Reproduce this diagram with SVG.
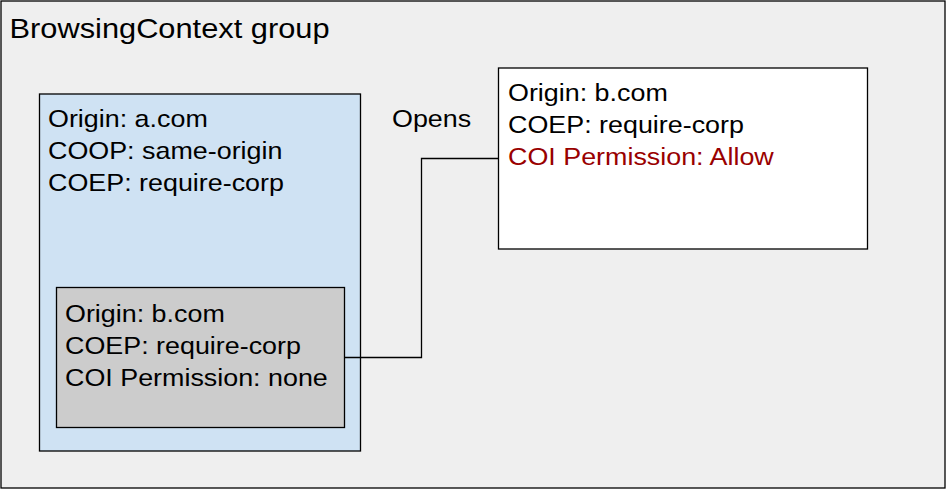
<svg xmlns="http://www.w3.org/2000/svg" width="947" height="489" viewBox="0 0 947 489">
<style>
.box{stroke:#000;stroke-width:1.3}
.t{font-family:"Liberation Sans",Arial,sans-serif;font-size:24px;fill:#000}
.title{font-size:27.5px}
.red{fill:#990000}
.conn{fill:none;stroke:#000;stroke-width:1.3}
</style>
<rect width="947" height="489" fill="#ffffff"/>
<g id="group">
<rect class="box" x="1" y="1" width="944" height="487" fill="#efefef"/>
<text class="t title" transform="translate(9.5,38) scale(1.12,1)">BrowsingContext group</text>
</g>
<g id="opener-a">
<rect class="box" x="39.5" y="94" width="321" height="357" fill="#cfe2f3"/>
<text class="t" transform="translate(48,127) scale(1.12,1)">Origin: a.com</text>
<text class="t" transform="translate(48,159) scale(1.12,1)">COOP: same-origin</text>
<text class="t" transform="translate(48,191) scale(1.12,1)">COEP: require-corp</text>
</g>
<g id="iframe-b">
<rect class="box" x="56.5" y="287.5" width="288" height="140" fill="#cccccc"/>
<text class="t" transform="translate(65,322) scale(1.12,1)">Origin: b.com</text>
<text class="t" transform="translate(65,354) scale(1.12,1)">COEP: require-corp</text>
<text class="t" transform="translate(65,386) scale(1.12,1)">COI Permission: none</text>
</g>
<g id="popup-b">
<rect class="box" x="498.5" y="68" width="369" height="181" fill="#ffffff"/>
<text class="t" transform="translate(508,101) scale(1.12,1)">Origin: b.com</text>
<text class="t" transform="translate(508,133) scale(1.12,1)">COEP: require-corp</text>
<text class="t red" transform="translate(508,165) scale(1.12,1)">COI Permission: Allow</text>
</g>
<g id="connectors">
<path class="conn" d="M344.5,357.5 H421.5 V158.5 H498.5"/>
<text class="t" transform="translate(392,127) scale(1.12,1)">Opens</text>
</g>
</svg>
